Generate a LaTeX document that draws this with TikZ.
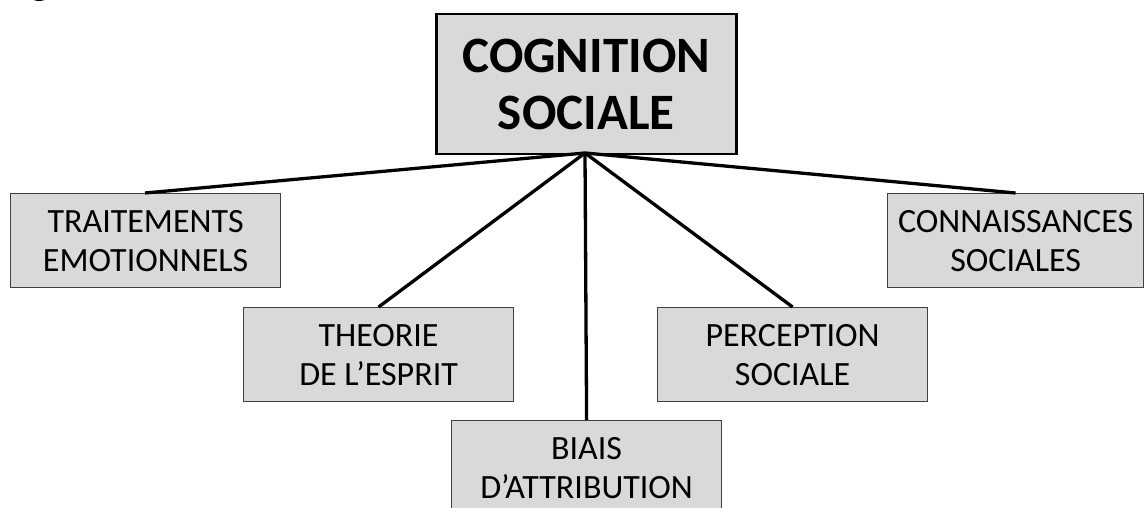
\documentclass[tikz,border=0pt]{standalone}
\usepackage{fontspec}
\setmainfont{Carlito}
\begin{document}
\begin{tikzpicture}[x=1pt,y=-1pt,
  sbox/.style={draw=black!75,line width=1.2pt,fill=black!15,minimum width=270pt,minimum height=94pt,anchor=north west,inner sep=0pt,align=center,font=\fontsize{34}{39}\selectfont},
  link/.style={line width=3.3pt,black}]
\useasboundingbox (0,0) rectangle (1144,508);
\node[anchor=base east,font=\fontsize{36}{40}\selectfont\bfseries\itshape,inner sep=0pt] (fig) at (137,-4) {Figure 1.};
\node[draw=black,line width=2.5pt,fill=black!15,minimum width=300pt,minimum height=140pt,anchor=north west,inner sep=0pt,align=center,font=\fontsize{51}{57}\selectfont\bfseries] (main) at (435,13) {COGNITION\\SOCIALE};
\node[sbox] (te) at (10,193) {TRAITEMENTS\\EMOTIONNELS};
\node[sbox] (th) at (243,307) {THEORIE\\DE L’ESPRIT};
\node[sbox] (bi) at (451,420) {BIAIS\\D’ATTRIBUTION};
\node[sbox] (pe) at (657,307) {PERCEPTION\\SOCIALE};
\node[sbox,minimum width=256pt] (co) at (887,193) {CONNAISSANCES\\SOCIALES};
\coordinate (hub) at (585,153);
\draw[link] (hub) -- (te.north -| 145,0);
\draw[link] (hub) -- (th.north);
\draw[link] (hub) -- (bi.north);
\draw[link] (hub) -- (pe.north);
\draw[link] (hub) -- (co.north);
\end{tikzpicture}
\end{document}
